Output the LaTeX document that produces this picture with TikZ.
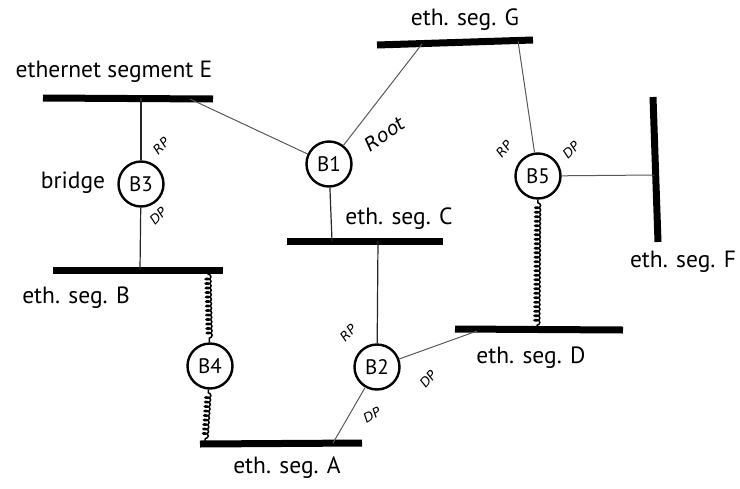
\documentclass[tikz,border=0pt]{standalone}
\usepackage{fontspec}
\setmainfont{PT Sans}
\newfontfamily\handfont{DejaVu Sans}
\usetikzlibrary{decorations.pathmorphing}

\tikzset{
  bridge/.style={circle, draw, line width=2.4pt, minimum size=45pt, inner sep=0pt,
                 font=\fontsize{21}{21}\selectfont},
  segbar/.style={line width=7pt},
  link/.style={line width=1pt, draw=black!65},
  vlink/.style={line width=1.2pt, draw=black!85},
  wavy/.style={line width=1.5pt, decorate,
               decoration={coil, aspect=0.6, amplitude=2.8pt, segment length=4.5pt,
                           pre length=3pt, post length=3pt}},
  seglabel/.style={font=\fontsize{23.5}{23.5}\selectfont, inner sep=0pt},
  port/.style={font=\handfont\itshape\fontsize{13}{13}\selectfont, inner sep=0pt},
}

\begin{document}
\begin{tikzpicture}[x=1pt, y=-1pt]
\useasboundingbox (0,0) rectangle (740,488);

% ethernet segments (bar ends)
\coordinate (eL) at (43,98);   \coordinate (eR) at (213,99);
\coordinate (gL) at (377,45);  \coordinate (gR) at (533,40);
\coordinate (cL) at (287,241); \coordinate (cR) at (443,241);
\coordinate (bL) at (53,270);  \coordinate (bR) at (223,270);
\coordinate (dL) at (455,329); \coordinate (dR) at (623,330);
\coordinate (aL) at (200,444); \coordinate (aR) at (362,443);
\coordinate (fT) at (653,97);  \coordinate (fB) at (658,242);

\foreach \s in {e,g,c,b,d,a}{\draw[segbar] (\s L) -- (\s R);}
\draw[segbar] (fT) -- (fB);

% attachment points on the segments
\coordinate (e3) at (141,98);
\coordinate (e1) at (190,99);
\coordinate (g1) at (422,44);
\coordinate (g5) at (518,41);
\coordinate (c1) at (332,241);
\coordinate (c2) at (378,241);
\coordinate (b3) at (140,270);
\coordinate (b4) at (208,271);
\coordinate (d2) at (477,331);
\coordinate (d5) at (537,329);
\coordinate (a4) at (205,443);
\coordinate (a2) at (333,443);
\coordinate (f5) at (654,175);

% bridges
\node[bridge] (B3) at (141,184) {B3};
\node[bridge] (B1) at (329,164) {B1};
\node[bridge] (B5) at (538,176) {B5};
\node[bridge] (B4) at (210,366) {B4};
\node[bridge] (B2) at (377,367) {B2};

% links
\draw[vlink] (B3) -- (e3);
\draw[vlink] (B3) -- (b3);
\draw[link] (e1) -- (B1);
\draw[link] (B1) -- (g1);
\draw[vlink] (B1) -- (c1);
\draw[vlink] (c2) -- (B2);
\draw[link] (B2) -- (d2);
\draw[link] (B2) -- (a2);
\draw[link] (B5) -- (g5);
\draw[link] (B5) -- (f5);
\draw[wavy] (B5) -- (d5);
\draw[wavy] (b4) -- (B4);
\draw[wavy] (B4) -- (a4);

% segment labels
\node[seglabel] (lE) at (114,72) {ethernet segment E};
\node[seglabel] (lG) at (465,20) {eth. seg. G};
\node[seglabel] (lC) at (399,219) {eth. seg. C};
\node[seglabel] (lB) at (76,298) {eth. seg. B};
\node[seglabel] (lD) at (531,358) {eth. seg. D};
\node[seglabel] (lA) at (287,468) {eth. seg. A};
\node[seglabel] (lF) at (683,262) {eth. seg. F};
\node[seglabel] (lbr) at (73,183) {bridge};

% port roles
\node[port, rotate=45] (p3r) at (161,146) {RP};
\node[port, rotate=45] (p3d) at (158,216) {DP};
\node[port, rotate=35, font=\handfont\itshape\fontsize{19}{19}\selectfont] (root) at (385,134) {Root};
\node[port, rotate=50] (p5r) at (504,149) {RP};
\node[port, rotate=45] (p5d) at (571,150) {DP};
\node[port, rotate=45] (p2r) at (348,333) {RP};
\node[port, rotate=50] (p2d) at (428,379) {DP};
\node[port, rotate=30] (p2a) at (372,415) {DP};
\end{tikzpicture}
\end{document}
